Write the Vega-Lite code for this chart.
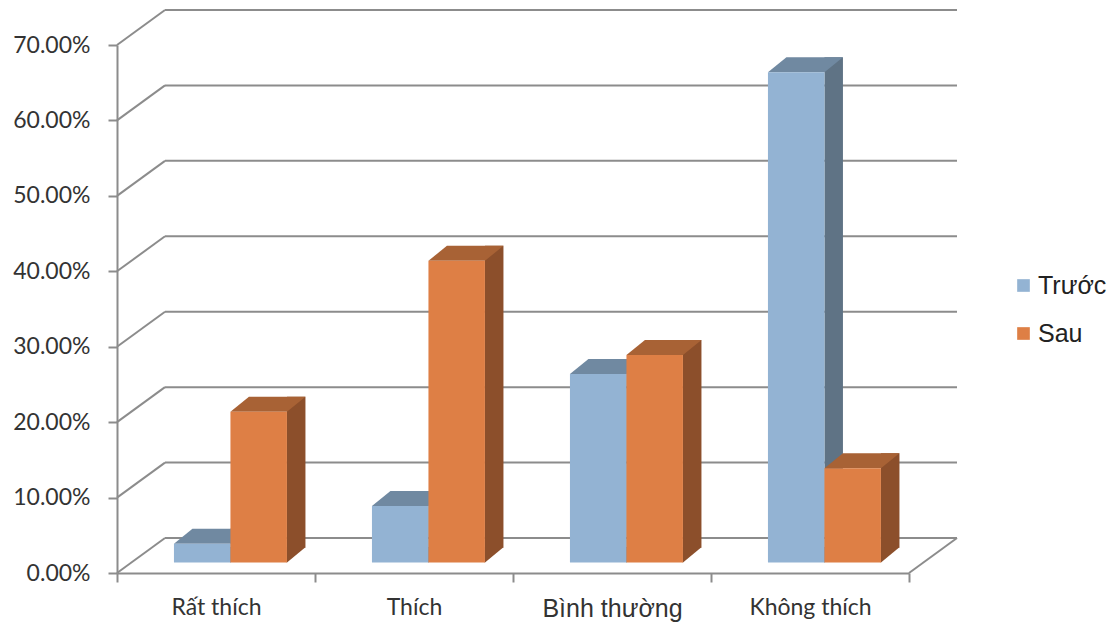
{
  "$schema": "https://vega.github.io/schema/vega-lite/v6.json",
  "width": 792,
  "height": 528,
  "autosize": {"type": "none"},
  "padding": {"left": 117, "top": 45, "right": 207, "bottom": 53},
  "background": "white",
  "data": {"name": "bars"},
  "datasets": {
    "bars": [
      {"category": "Rất thích", "series": "Trước", "value": 0.025},
      {"category": "Thích", "series": "Trước", "value": 0.075},
      {"category": "Bình thường", "series": "Trước", "value": 0.25},
      {"category": "Không thích", "series": "Trước", "value": 0.65},
      {"category": "Rất thích", "series": "Sau", "value": 0.2},
      {"category": "Thích", "series": "Sau", "value": 0.4},
      {"category": "Bình thường", "series": "Sau", "value": 0.275},
      {"category": "Không thích", "series": "Sau", "value": 0.125}
    ],
    "grid": [
      {"v": 0}, {"v": 0.1}, {"v": 0.2}, {"v": 0.3}, {"v": 0.4}, {"v": 0.5}, {"v": 0.6}, {"v": 0.7}
    ]
  },
  "config": {
    "view": {"stroke": null},
    "axisY": {
      "domainColor": "#8C8C8C", "domainWidth": 2, "tickColor": "#8C8C8C", "tickWidth": 2, "tickSize": 9,
      "grid": false, "labelFont": "Lato", "labelFontSize": 23, "labelColor": "#333333", "labelPadding": 18
    },
    "axisX": {
      "domainColor": "#8C8C8C", "domainWidth": 2, "tickColor": "#8C8C8C", "tickWidth": 2, "tickSize": 9,
      "tickBand": "extent", "grid": false, "labelFontSize": 23, "labelColor": "#333333", "labelPadding": 14,
      "labelAngle": 0
    },
    "legend": {
      "symbolType": "square", "symbolSize": 160, "symbolStrokeWidth": 0, "labelFontSize": 25,
      "labelFont": "Liberation Sans",
      "labelColor": "#222222", "labelOffset": 2, "rowPadding": 22, "padding": 0
    }
  },
  "layer": [
    {
      "data": {"name": "grid"},
      "mark": {"type": "rule", "color": "#8C8C8C", "strokeWidth": 2, "x2Offset": 48, "y2Offset": -35},
      "encoding": {
        "x": {"value": 0},
        "x2": {"value": 0},
        "y": {"field": "v", "type": "quantitative", "title": null, "scale": {"domain": [0, 0.7], "nice": false},
              "axis": {"values": [0, 0.1, 0.2, 0.3, 0.4, 0.5, 0.6, 0.7], "format": ".2%", "title": null}},
        "y2": {"field": "v"}
      }
    },
    {
      "data": {"name": "grid"},
      "mark": {"type": "rule", "color": "#8C8C8C", "strokeWidth": 2, "xOffset": 48, "x2Offset": 48, "yOffset": -35},
      "encoding": {
        "x": {"value": 0},
        "x2": {"value": "width"},
        "y": {"field": "v", "type": "quantitative", "title": null}
      }
    },
    {
      "data": {"values": [{"v": 0}]},
      "mark": {"type": "rule", "color": "#8C8C8C", "strokeWidth": 2, "x2Offset": 48, "y2Offset": -35},
      "encoding": {
        "x": {"value": "width"},
        "x2": {"value": "width"},
        "y": {"field": "v", "type": "quantitative", "title": null},
        "y2": {"field": "v"}
      }
    },
    {
      "transform": [{"filter": "datum.series === 'Trước'"}],
      "mark": {"type": "bar", "width": 18.5, "color": "#5F7385", "xOffset": 23.7, "yOffset": -25.5, "y2Offset": -25.5},
      "encoding": {
        "x": {"field": "category", "type": "nominal", "title": null, "sort": null,
              "scale": {"type": "band", "domain": ["Rất thích", "Thích", "Bình thường", "Không thích"], "paddingInner": 0, "paddingOuter": 0},
              "axis": {"title": null, "labelFont": {"condition": {"test": "datum.value === 'Bình thường'", "value": "Liberation Sans"}, "value": "Lato"},
                       "labelFontSize": {"condition": {"test": "datum.value === 'Bình thường'", "value": 25}, "value": 23}}},
        "y": {"field": "value", "type": "quantitative", "title": null},
        "y2": {"datum": 0}
      }
    },
    {
      "transform": [{"filter": "datum.series === 'Trước'"}],
      "mark": {"type": "point", "filled": true, "opacity": 1, "strokeWidth": 0, "size": 4, "color": "#5F7385",
               "shape": "M 28 0.3 L 28 -15.5 L 47 -15.5 Z", "xOffset": -13.8, "yOffset": -10.5},
      "encoding": {
        "x": {"field": "category", "type": "nominal", "title": null, "scale": {"type": "band"}},
        "y": {"datum": 0, "type": "quantitative"}
      }
    },
    {
      "transform": [{"filter": "datum.series === 'Trước'"}],
      "mark": {"type": "point", "filled": true, "opacity": 1, "strokeWidth": 0, "size": 4, "color": "#7089A1",
               "shape": "M -28.25 0 L 28.25 0 L 46.75 -15 L -9.75 -15 Z", "xOffset": -13.8, "yOffset": -10.5},
      "encoding": {
        "x": {"field": "category", "type": "nominal", "title": null, "scale": {"type": "band"}},
        "y": {"field": "value", "type": "quantitative", "title": null}
      }
    },
    {
      "transform": [{"filter": "datum.series === 'Trước'"}],
      "mark": {"type": "bar", "width": 56.5, "xOffset": -13.8, "yOffset": -10.5, "y2Offset": -10.5},
      "encoding": {
        "x": {"field": "category", "type": "nominal", "title": null, "scale": {"type": "band"}},
        "y": {"field": "value", "type": "quantitative", "title": null},
        "y2": {"datum": 0},
        "color": {"field": "series", "type": "nominal", "title": null,
                  "scale": {"domain": ["Trước", "Sau"], "range": ["#93B3D3", "#DE7F45"]},
                  "legend": {"orient": "none", "legendX": 894, "legendY": 228, "title": null}}
      }
    },
    {
      "transform": [{"filter": "datum.series === 'Sau'"}],
      "mark": {"type": "bar", "width": 18.5, "color": "#8C4F2B", "xOffset": 80.2, "yOffset": -25.5, "y2Offset": -25.5},
      "encoding": {
        "x": {"field": "category", "type": "nominal", "title": null, "scale": {"type": "band"}},
        "y": {"field": "value", "type": "quantitative", "title": null},
        "y2": {"datum": 0}
      }
    },
    {
      "transform": [{"filter": "datum.series === 'Sau'"}],
      "mark": {"type": "point", "filled": true, "opacity": 1, "strokeWidth": 0, "size": 4, "color": "#8C4F2B",
               "shape": "M 28 0.3 L 28 -15.5 L 47 -15.5 Z", "xOffset": 42.7, "yOffset": -10.5},
      "encoding": {
        "x": {"field": "category", "type": "nominal", "title": null, "scale": {"type": "band"}},
        "y": {"datum": 0, "type": "quantitative"}
      }
    },
    {
      "transform": [{"filter": "datum.series === 'Sau'"}],
      "mark": {"type": "point", "filled": true, "opacity": 1, "strokeWidth": 0, "size": 4, "color": "#A86235",
               "shape": "M -28.25 0 L 28.25 0 L 46.75 -15 L -9.75 -15 Z", "xOffset": 42.7, "yOffset": -10.5},
      "encoding": {
        "x": {"field": "category", "type": "nominal", "title": null, "scale": {"type": "band"}},
        "y": {"field": "value", "type": "quantitative", "title": null}
      }
    },
    {
      "transform": [{"filter": "datum.series === 'Sau'"}],
      "mark": {"type": "bar", "width": 56.5, "xOffset": 42.7, "yOffset": -10.5, "y2Offset": -10.5},
      "encoding": {
        "x": {"field": "category", "type": "nominal", "title": null, "scale": {"type": "band"}},
        "y": {"field": "value", "type": "quantitative", "title": null},
        "y2": {"datum": 0},
        "color": {"field": "series", "type": "nominal", "title": null}
      }
    }
  ]
}
